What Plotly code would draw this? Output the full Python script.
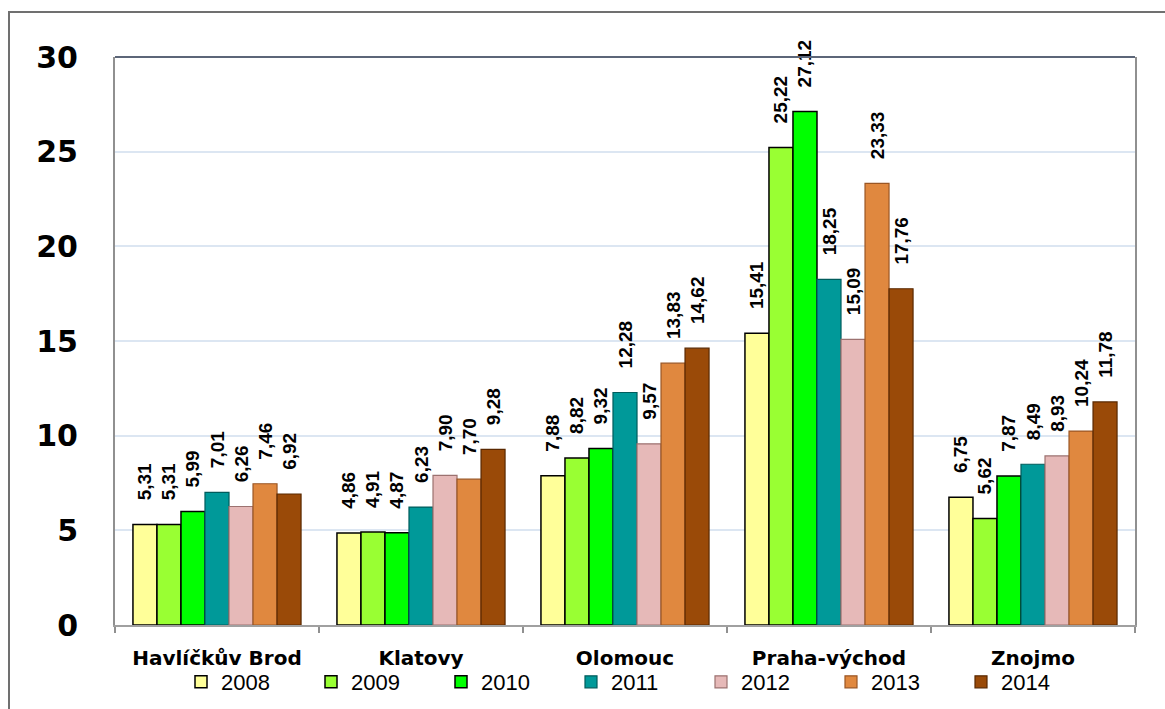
import plotly.graph_objects as go

# Districts and yearly values
districts = ["Havlíčkův Brod", "Klatovy", "Olomouc", "Praha-východ", "Znojmo"]
years = ["2008", "2009", "2010", "2011", "2012", "2013", "2014"]

v2008 = [5.31, 4.86, 7.88, 15.41, 6.75]
v2009 = [5.31, 4.91, 8.82, 25.22, 5.62]
v2010 = [5.99, 4.87, 9.32, 27.12, 7.87]
v2011 = [7.01, 6.23, 12.28, 18.25, 8.49]
v2012 = [6.26, 7.90, 9.57, 15.09, 8.93]
v2013 = [7.46, 7.70, 13.83, 23.33, 10.24]
v2014 = [6.92, 9.28, 14.62, 17.76, 11.78]

series = [v2008, v2009, v2010, v2011, v2012, v2013, v2014]
fills = ["#FFFF99", "#99FF33", "#00FF00", "#009999", "#E6B9B8", "#E0883F", "#9A4A08"]
edges = ["#000000", "#000000", "#000000", "#005C5C", "#9C7270", "#9A5624", "#5A2800"]
edge_w = [1.5, 1.5, 1.5, 1.2, 1.2, 1.2, 1.2]

ytick_vals = [0, 5, 10, 15, 20, 25, 30]

NB = "\u00a0"


def fmt(v):
    return NB * 4 + f"{v:.2f}".replace(".", ",")


fig = go.Figure()
for name, vals, fc, ec, ew in zip(years, series, fills, edges, edge_w):
    fig.add_trace(go.Bar(
        name=name,
        x=districts,
        y=vals,
        marker=dict(color=fc, line=dict(color=ec, width=ew)),
        text=[fmt(v) for v in vals],
        textposition="outside",
        textangle=-90,
        constraintext="none",
        cliponaxis=False,
        textfont=dict(family="Liberation Sans, Arial, sans-serif", size=19,
                      color="#000000", weight="bold"),
        hoverinfo="skip",
    ))

L, R, T, B = 115, 30, 57, 84
W, H = 1165, 709
pw, ph = W - L - R, H - T - B


def px_x(px):
    return (px - L) / pw


def px_y(py):
    return (H - B - py) / ph


fig.update_layout(
    width=W, height=H,
    margin=dict(l=L, r=R, t=T, b=B, autoexpand=False),
    paper_bgcolor="#FFFFFF",
    plot_bgcolor="#FFFFFF",
    barmode="group",
    bargap=0.176,
    bargroupgap=0,
    showlegend=True,
    legend=dict(
        orientation="h",
        x=px_x(181), xanchor="left",
        y=px_y(682), yanchor="middle",
        entrywidth=85, entrywidthmode="pixels",
        font=dict(family="Liberation Sans, Arial, sans-serif", size=22, color="#000000"),
        bgcolor="rgba(0,0,0,0)",
        traceorder="normal",
        itemclick=False, itemdoubleclick=False,
    ),
    xaxis=dict(
        type="category",
        tickson="boundaries",
        ticks="outside", ticklen=6, tickcolor="#909090", tickwidth=1.5,
        showline=True, linecolor="#A0A0A0", linewidth=2,
        showgrid=False,
        tickfont=dict(family="DejaVu Sans, sans-serif", size=20, color="#000000", weight="bold"),
        ticklabelstandoff=14,
    ),
    yaxis=dict(
        range=[0, 30],
        tickvals=ytick_vals,
        ticktext=[str(v) for v in ytick_vals],
        showgrid=True, gridcolor="#DCE6F2", gridwidth=1.5,
        zeroline=False,
        showline=True, linecolor="#909090", linewidth=2, mirror=True,
        ticks="",
        tickfont=dict(family="DejaVu Sans, sans-serif", size=30, color="#000000", weight="bold"),
        ticklabelstandoff=29,
    ),
    shapes=[
        # darker top edge of the plotting area
        dict(type="line", xref="paper", yref="paper", x0=0, x1=1, y0=1, y1=1,
             line=dict(color="#5C6678", width=2), layer="above"),
        # outer frame around the chart
        dict(type="rect", xref="paper", yref="paper",
             x0=px_x(9), x1=px_x(W + 20), y0=px_y(H + 20), y1=px_y(12),
             line=dict(color="#707070", width=2), fillcolor="rgba(0,0,0,0)", layer="below"),
    ],
)

fig.write_html("out.html")
